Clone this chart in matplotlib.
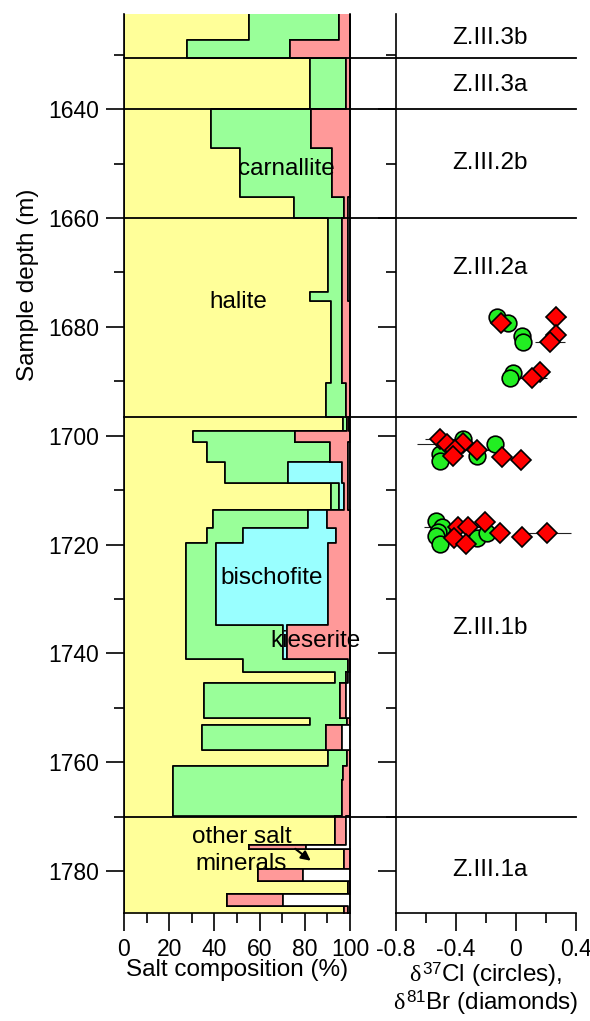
import numpy as np
import matplotlib
matplotlib.use('Agg')
import matplotlib.pyplot as plt
import matplotlib.transforms as mtransforms
from matplotlib.lines import Line2D

plt.rcParams['font.family'] = ['Liberation Sans', 'DejaVu Sans']
plt.rcParams['mathtext.fontset'] = 'custom'
plt.rcParams['mathtext.rm'] = 'Liberation Sans'
plt.rcParams['mathtext.it'] = 'Liberation Serif'

# --- salt composition, one row per depth interval (top of interval, m) ---
depth_top = [1622.0, 1627.3, 1630.5, 1640.0, 1647.1, 1656.2, 1660.0, 1673.6, 1675.2,
             1690.3, 1696.5, 1699.2, 1701.2, 1704.9, 1708.6, 1713.6, 1716.9, 1719.8,
             1734.8, 1741.1, 1743.4, 1745.5, 1751.9, 1753.2, 1757.8, 1760.7, 1763.3,
             1769.8, 1775.3, 1775.9, 1779.6, 1781.8, 1784.2, 1786.5]
depth_bottom = 1788.2
halite = [55.4, 27.7, 82.3, 38.5, 51.3, 75.4, 90.3, 82.3, 91.5,
          89.2, 97.0, 30.7, 36.6, 44.7, 91.4, 39.5, 36.6, 27.3,
          27.3, 52.5, 93.4, 35.4, 82.5, 34.4, 90.4, 21.5, 21.5,
          93.4, 55.5, 97.3, 59.4, 99.3, 45.7, 97.3]
carnallite = [39.9, 45.8, 16.0, 44.1, 40.9, 21.8, 6.0, 14.0, 4.8,
              9.0, 1.5, 45.0, 54.7, 27.7, 3.9, 42.1, 15.9, 13.3,
              43.2, 46.8, 4.8, 60.0, 16.0, 55.0, 8.1, 75.5, 74.8,
              0, 0, 0, 0, 0, 0, 0]
bischofite = [0, 0, 0, 0, 0, 0, 0, 0, 0,
              0, 0, 0, 0, 23.9, 2.0, 8.1, 41.5, 49.8,
              1.5, 0, 0, 0, 0, 0, 0, 0, 0,
              0, 0, 0, 0, 0, 0, 0]
kieserite = [4.7, 26.5, 1.7, 17.4, 7.8, 2.1, 2.7, 2.7, 3.7,
             1.8, 1.0, 24.3, 7.9, 2.9, 1.9, 10.3, 6.0, 9.6,
             28.0, 0.7, 1.0, 3.0, 1.5, 6.9, 1.5, 3.0, 3.7,
             4.8, 25.0, 2.7, 20.0, 0.7, 24.8, 2.0]

# --- isotope data ---
cl_value = [-0.129, -0.051, 0.038, 0.049, -0.022, -0.040,
            -0.351, -0.140, -0.510, -0.510, -0.262,
            -0.533, -0.496, -0.520, -0.533, -0.507, -0.258, -0.196]
cl_depth = [1678.1, 1679.3, 1681.7, 1682.8, 1688.4, 1689.4,
            1700.6, 1701.5, 1703.3, 1704.6, 1703.8,
            1715.7, 1716.7, 1717.6, 1718.5, 1719.9, 1718.8, 1717.9]
cl_err = [0.05, 0.03, 0.03, 0.03, 0.03, 0.03,
          0.03, 0.03, 0.03, 0.03, 0.03,
          0.03, 0.03, 0.03, 0.03, 0.03, 0.03, 0.03]
br_value = [0.267, -0.102, 0.267, 0.227, 0.160, 0.109,
            -0.507, -0.462, -0.356, -0.407, -0.418, -0.262, -0.096, 0.031,
            -0.384, -0.318, -0.207, -0.107, -0.413, -0.333, 0.038, 0.209]
br_depth = [1678.2, 1679.3, 1681.5, 1682.8, 1688.2, 1689.4,
            1700.6, 1701.5, 1701.3, 1702.6, 1703.8, 1702.7, 1703.9, 1704.5,
            1716.7, 1716.8, 1715.9, 1717.9, 1718.8, 1719.9, 1718.6, 1717.8]
br_err = [0.067, 0.03, 0.03, 0.10, 0.03, 0.10,
          0.10, 0.20, 0.05, 0.05, 0.05, 0.16, 0.05, 0.03,
          0.23, 0.05, 0.05, 0.05, 0.05, 0.05, 0.03, 0.16]

# zone boundaries and labels
zone_bounds = [1630.5, 1640.0, 1660.0, 1696.5, 1770.0]
zone_names = ['Z.III.3b', 'Z.III.3a', 'Z.III.2b', 'Z.III.2a', 'Z.III.1b', 'Z.III.1a']
zone_label_depth = [1627.0, 1635.6, 1649.9, 1669.2, 1735.4, 1779.8]

FS = 17.5
TFS = 16.5
ylim = (1787.7, 1622.5)

fig = plt.figure(figsize=(5.9, 10.21), dpi=100)
ax1 = fig.add_axes([124 / 590, 0.1058, 226 / 590, 0.8805])
ax2 = fig.add_axes([396 / 590, 0.1058, 180 / 590, 0.8805])

# stacked step fills
edges = np.array(depth_top + [depth_bottom])
comp = [np.array(halite), np.array(carnallite), np.array(bischofite), np.array(kieserite)]
cum = [np.zeros(len(halite))]
for c in comp:
    cum.append(cum[-1] + c)
cum.append(np.full(len(halite), 100.0))
colors = ['#ffff99', '#99ff99', '#99ffff', '#ff9999', '#ffffff']
for i in range(5):
    left = np.append(cum[i], cum[i][-1])
    right = np.append(cum[i + 1], cum[i + 1][-1])
    ax1.fill_betweenx(edges, left, right, step='post', facecolor=colors[i],
                      edgecolor='k', linewidth=1.2)

ax1.set_xlim(0, 100)
ax1.set_ylim(*ylim)
ax1.spines['top'].set_visible(False)
ax1.spines['right'].set_linewidth(1.2)
ax1.set_xticks(np.arange(0, 101, 20))
ax1.set_xticks(np.arange(0, 101, 10), minor=True)
ax1.set_yticks(np.arange(1640, 1781, 20))
ax1.set_yticks(np.arange(1630, 1790, 10), minor=True)

ax1.text(71.9, 1650.9, 'carnallite', fontsize=FS, ha='center', va='center')
ax1.text(50.6, 1675.5, 'halite', fontsize=FS, ha='center', va='center')
ax1.text(65.5, 1726.1, 'bischofite', fontsize=FS, ha='center', va='center')
ax1.text(84.9, 1737.7, 'kieserite', fontsize=FS, ha='center', va='center', clip_on=False)
ax1.text(52.0, 1776.2, 'other salt\nminerals', fontsize=FS, ha='center', va='center',
         linespacing=1.3)
ax1.annotate('', xy=(83.6, 1778.4), xytext=(74.8, 1775.6),
             arrowprops=dict(arrowstyle='-|>', color='k', lw=1.5, mutation_scale=14))

# isotope panel
ax2.errorbar(cl_value, cl_depth, xerr=cl_err, fmt='none', ecolor='#222222', elinewidth=0.8)
ax2.errorbar(br_value, br_depth, xerr=br_err, fmt='none', ecolor='#222222', elinewidth=0.8)
ax2.plot(cl_value, cl_depth, 'o', ms=12, mfc='#22ee22', mec='k', mew=1.2, ls='none')
ax2.plot(br_value, br_depth, 'D', ms=10.5, mfc='#ff0000', mec='k', mew=1.2, ls='none')
ax2.set_xlim(-0.8, 0.4)
ax2.set_ylim(*ylim)
ax2.spines['top'].set_visible(False)
ax2.spines['right'].set_visible(False)
ax2.set_xticks([-0.8, -0.4, 0, 0.4])
ax2.set_xticklabels(['-0.8', '-0.4', '0', '0.4'])
ax2.set_xticks([-0.6, -0.2, 0.2], minor=True)
ax2.set_yticks(np.arange(1640, 1781, 20))
ax2.set_yticks(np.arange(1630, 1790, 10), minor=True)
ax2.set_yticklabels([])
for name, d in zip(zone_names, zone_label_depth):
    ax2.text(-0.173, d, name, fontsize=FS, ha='center', va='center')

for ax in (ax1, ax2):
    ax.tick_params(which='major', direction='out', length=13, width=1.2,
                   labelsize=TFS, pad=5)
    ax.tick_params(which='minor', direction='out', length=7, width=1.2)
    for s in ('left', 'bottom'):
        ax.spines[s].set_linewidth(1.2)

# zone boundary lines across both panels
trans = mtransforms.blended_transform_factory(fig.transFigure, ax1.transData)
for d in zone_bounds:
    fig.add_artist(Line2D([124 / 590, 576 / 590], [d, d], transform=trans,
                          color='k', lw=1.3))

fig.text(28 / 590, 1 - 285 / 1021, 'Sample depth (m)', rotation=90,
         fontsize=FS, ha='center', va='center')
fig.text(237 / 590, 1 - 970 / 1021, 'Salt composition (%)', fontsize=FS,
         ha='center', va='center')
fig.text(486 / 590, 1 - 975 / 1021, r'$\delta^{37}$Cl (circles),', fontsize=FS,
         ha='center', va='center')
fig.text(486 / 590, 1 - 1003 / 1021, r'$\delta^{81}$Br (diamonds)', fontsize=FS,
         ha='center', va='center')

fig.savefig('out.png', dpi=100)
